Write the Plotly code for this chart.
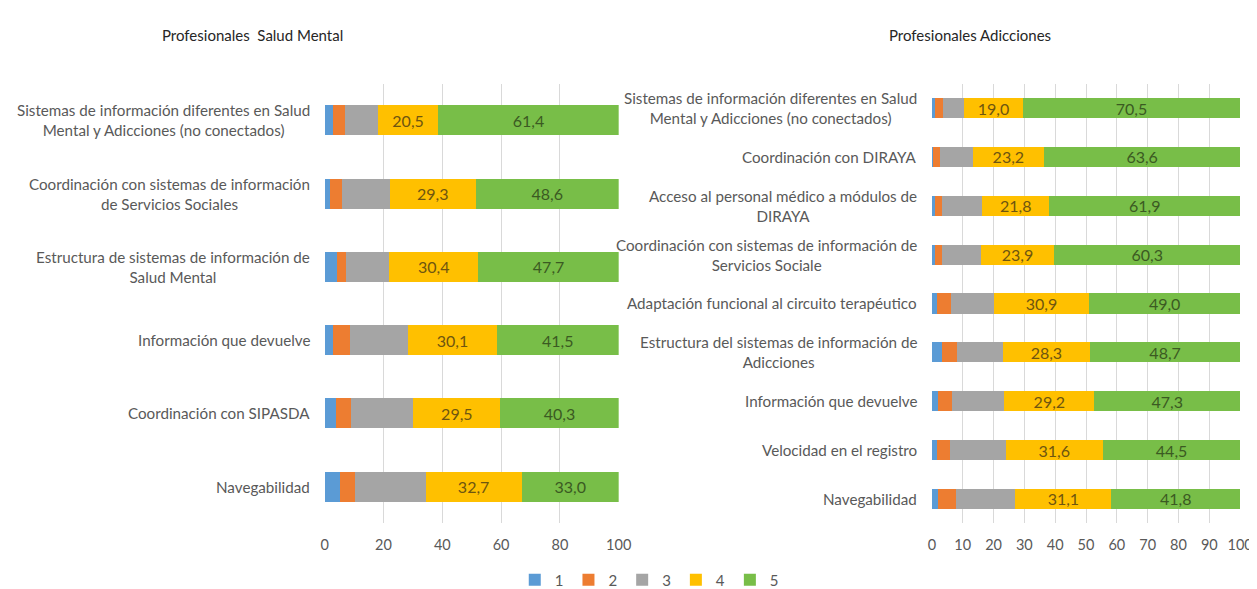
import plotly.graph_objects as go

# ---------------- data ----------------
levels = ["1", "2", "3", "4", "5"]

sm_cats = [
    "Sistemas de información diferentes en Salud<br>Mental y Adicciones (no conectados)",
    "Coordinación con sistemas de información<br>de Servicios Sociales",
    "Estructura de sistemas de información de<br>Salud Mental",
    "Información que devuelve",
    "Coordinación con SIPASDA",
    "Navegabilidad",
]
sm_1 = [2.8, 1.9, 4.2, 2.8, 3.7, 5.2]
sm_2 = [4.2, 3.9, 3.0, 5.8, 5.3, 5.0]
sm_3 = [11.1, 16.3, 14.7, 19.8, 21.2, 24.1]
sm_4 = [20.5, 29.3, 30.4, 30.1, 29.5, 32.7]
sm_5 = [61.4, 48.6, 47.7, 41.5, 40.3, 33.0]

ad_cats = [
    "Sistemas de información diferentes en Salud<br>Mental y Adicciones (no conectados)",
    "Coordinación con DIRAYA",
    "Acceso al personal médico a módulos de<br>DIRAYA",
    "Coordinación con sistemas de información de<br>Servicios Sociale",
    "Adaptación funcional al circuito terapéutico",
    "Estructura del sistemas de información de<br>Adicciones",
    "Información que devuelve",
    "Velocidad en el registro",
    "Navegabilidad",
]
ad_1 = [1.1, 0.5, 1.1, 1.1, 1.8, 3.2, 2.0, 1.8, 2.1]
ad_2 = [2.4, 2.2, 2.3, 2.3, 4.3, 5.0, 4.6, 4.0, 5.6]
ad_3 = [7.0, 10.5, 12.9, 12.4, 14.0, 14.8, 16.9, 18.1, 19.4]
ad_4 = [19.0, 23.2, 21.8, 23.9, 30.9, 28.3, 29.2, 31.6, 31.1]
ad_5 = [70.5, 63.6, 61.9, 60.3, 49.0, 48.7, 47.3, 44.5, 41.8]

titles = ["Profesionales  Salud Mental", "Profesionales Adicciones"]
sm_ticks = [0, 20, 40, 60, 80, 100]
ad_ticks = [0, 10, 20, 30, 40, 50, 60, 70, 80, 90, 100]

# ---------------- style ----------------
FONT = "Lato, sans-serif"
colors = ["#5B9BD5", "#ED7D31", "#A5A5A5", "#FFC000", "#78BE48"]
txtcolors = [None, None, None, "#6E5510", "#3B5A22"]
W, H = 1257, 589

fig = go.Figure()

def add_panel(cats, series, xa, ya, showlegend):
    for i, (lvl, vals) in enumerate(zip(levels, series)):
        show_text = i >= 3
        fig.add_trace(go.Bar(
            y=cats, x=vals, name=lvl, orientation="h",
            marker=dict(color=colors[i], line=dict(width=0)),
            xaxis=xa, yaxis=ya,
            legendgroup=lvl, showlegend=showlegend,
            texttemplate="%{x:.1f}" if show_text else None,
            textposition="inside" if show_text else "none",
            insidetextanchor="middle", textangle=0,
            constraintext="none",
            insidetextfont=dict(family=FONT, size=16,
                                color=txtcolors[i] or "#404040"),
            hoverinfo="x+y+name",
        ))

add_panel(sm_cats, [sm_1, sm_2, sm_3, sm_4, sm_5], "x", "y", True)
add_panel(ad_cats, [ad_1, ad_2, ad_3, ad_4, ad_5], "x2", "y2", False)

y_dom = [(H - 518) / H, (H - 76) / H]
axis_common = dict(range=[0, 100], showgrid=True, gridcolor="#D9D9D9",
                   gridwidth=1, zeroline=False, showline=False, ticks="",
                   tickfont=dict(family=FONT, size=14.5, color="#595959"),
                   ticklabelstandoff=11, fixedrange=True)

fig.update_layout(
    width=W, height=H,
    margin=dict(l=0, r=0, t=0, b=0),
    paper_bgcolor="white", plot_bgcolor="white",
    barmode="stack",
    separators=",.",
    font=dict(family=FONT, size=16, color="#595959"),
    xaxis=dict(domain=[317 / W, 615 / W], anchor="y",
               tickvals=sm_ticks, **axis_common),
    yaxis=dict(domain=y_dom, anchor="x", autorange="reversed",
               showticklabels=False, showgrid=False, zeroline=False,
               type="category"),
    xaxis2=dict(domain=[932.5 / W, 1245 / W], anchor="y2",
                tickvals=ad_ticks, **axis_common),
    yaxis2=dict(domain=y_dom, anchor="x2", autorange="reversed",
                showticklabels=False, showgrid=False, zeroline=False,
                type="category"),
    bargap=0.59,
    legend=dict(orientation="h", x=646 / W, xanchor="center",
                y=(H - 575) / H, yanchor="middle",
                font=dict(family=FONT, size=15, color="#595959"),
                itemwidth=30, traceorder="normal"),
    showlegend=True,
)

annotations = []
for cats, xr, yr in [(sm_cats, "x domain", "y"), (ad_cats, "x2 domain", "y2")]:
    for i, c in enumerate(cats):
        annotations.append(dict(
            text=c, xref=xr, yref=yr, x=0, y=i, xanchor="right",
            yanchor="middle", align="center", showarrow=False, xshift=-13,
            font=dict(family=FONT, size=15.2, color="#595959"),
        ))
for t, xc in zip(titles, [244 / W, 971 / W]):
    annotations.append(dict(
        text=t, xref="paper", yref="paper", x=xc, y=(H - 27) / H,
        xanchor="center", yanchor="middle", showarrow=False,
        font=dict(family=FONT, size=15, color="#262626"),
    ))
fig.update_layout(annotations=annotations)

fig.write_html("out.html")
